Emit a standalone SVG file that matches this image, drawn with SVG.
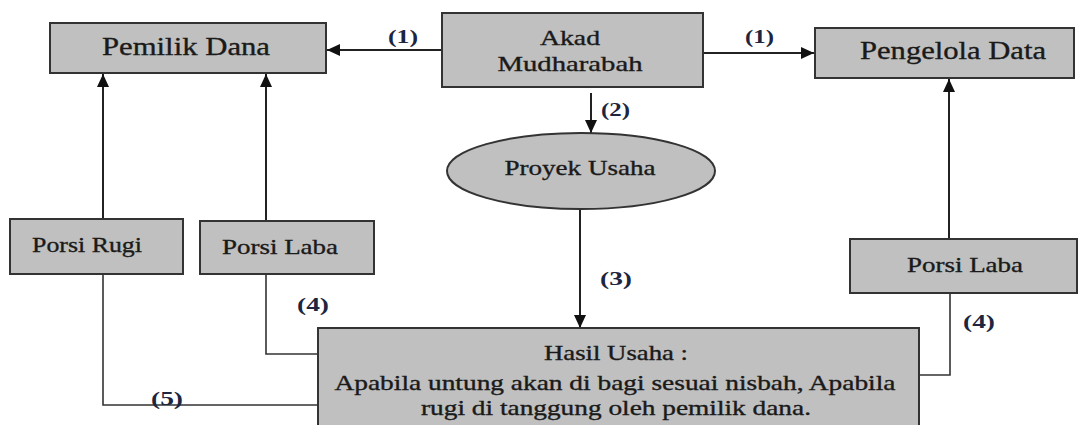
<svg xmlns="http://www.w3.org/2000/svg" width="1080" height="425" viewBox="0 0 1080 425">
<style>
.box{fill:#c0c0c0;stroke:#333;stroke-width:2}
.t{font-family:"Liberation Serif","Times New Roman",serif;fill:#1a1a1a;stroke:#1a1a1a;stroke-width:0.35;text-anchor:middle}
.lbl{font-family:"Liberation Serif","Times New Roman",serif;fill:#1e2540;font-weight:bold;font-size:19px}
.ln{fill:none;stroke:#222;stroke-width:2}
.ln2{fill:none;stroke:#333;stroke-width:1.6}
</style>
<defs>
<marker id="ah" markerUnits="userSpaceOnUse" markerWidth="14" markerHeight="12" refX="13" refY="6" orient="auto">
<path d="M0,0 L13,6 L0,12 Z" fill="#111"/>
</marker>
</defs>
<rect width="1080" height="425" fill="#fff"/>
<g id="connectors">
<line class="ln" x1="442" y1="50" x2="327" y2="50" marker-end="url(#ah)"/>
<line class="ln" x1="703" y1="53" x2="814" y2="53" marker-end="url(#ah)"/>
<line class="ln" x1="591" y1="93" x2="591" y2="133" marker-end="url(#ah)"/>
<line class="ln" x1="580" y1="209" x2="580" y2="328" marker-end="url(#ah)"/>
<line class="ln" x1="103" y1="219" x2="103" y2="74" marker-end="url(#ah)"/>
<line class="ln" x1="266" y1="221" x2="266" y2="74" marker-end="url(#ah)"/>
<line class="ln" x1="949" y1="239" x2="949" y2="79" marker-end="url(#ah)"/>
<polyline class="ln2" points="103,274 103,405 318,405"/>
<polyline class="ln2" points="266,274 266,354 318,354"/>
<polyline class="ln2" points="950,282 950,375 919,375"/>
<text class="lbl" x="388" y="43" textLength="30" lengthAdjust="spacingAndGlyphs">(1)</text>
<text class="lbl" x="745" y="43" textLength="29" lengthAdjust="spacingAndGlyphs">(1)</text>
<text class="lbl" x="601" y="116" textLength="29" lengthAdjust="spacingAndGlyphs">(2)</text>
<text class="lbl" x="600" y="285" textLength="32" lengthAdjust="spacingAndGlyphs">(3)</text>
<text class="lbl" x="297" y="311" textLength="32" lengthAdjust="spacingAndGlyphs">(4)</text>
<text class="lbl" x="963" y="328" textLength="32" lengthAdjust="spacingAndGlyphs">(4)</text>
<text class="lbl" x="151" y="405" textLength="32" lengthAdjust="spacingAndGlyphs">(5)</text>
</g>
<g id="pemilik-dana">
<rect class="box" x="50" y="23" width="276" height="50"/>
<text class="t" x="186" y="55" font-size="26" textLength="168" lengthAdjust="spacingAndGlyphs">Pemilik Dana</text>
</g>
<g id="akad-mudharabah">
<rect class="box" x="442" y="13" width="261" height="74"/>
<text class="t" x="570" y="45" font-size="22" textLength="60" lengthAdjust="spacingAndGlyphs">Akad</text>
<text class="t" x="570" y="71" font-size="22" textLength="145" lengthAdjust="spacingAndGlyphs">Mudharabah</text>
</g>
<g id="pengelola-data">
<rect class="box" x="815" y="28" width="259" height="50"/>
<text class="t" x="953" y="59" font-size="26" textLength="186" lengthAdjust="spacingAndGlyphs">Pengelola Data</text>
</g>
<g id="proyek-usaha">
<ellipse cx="581" cy="171" rx="134" ry="38" fill="#c0c0c0" stroke="#333" stroke-width="2"/>
<text class="t" x="580" y="175" font-size="22" textLength="151" lengthAdjust="spacingAndGlyphs">Proyek Usaha</text>
</g>
<g id="porsi-rugi">
<rect class="box" x="10" y="219" width="173" height="55"/>
<text class="t" x="87" y="252" font-size="22" textLength="110" lengthAdjust="spacingAndGlyphs">Porsi Rugi</text>
</g>
<g id="porsi-laba-kiri">
<rect class="box" x="200" y="221" width="174" height="53"/>
<text class="t" x="280" y="254" font-size="22" textLength="116" lengthAdjust="spacingAndGlyphs">Porsi Laba</text>
</g>
<g id="porsi-laba-kanan">
<rect class="box" x="850" y="239" width="227" height="54"/>
<text class="t" x="965" y="272" font-size="22" textLength="116" lengthAdjust="spacingAndGlyphs">Porsi Laba</text>
</g>
<g id="hasil-usaha">
<rect class="box" x="318" y="328" width="601" height="110"/>
<text class="t" x="616" y="360" font-size="21" textLength="144" lengthAdjust="spacingAndGlyphs">Hasil Usaha :</text>
<text class="t" x="615" y="390" font-size="21" textLength="561" lengthAdjust="spacingAndGlyphs">Apabila untung akan di bagi sesuai nisbah, Apabila</text>
<text class="t" x="616" y="415" font-size="21" textLength="390" lengthAdjust="spacingAndGlyphs">rugi di tanggung oleh pemilik  dana.</text>
</g>
</svg>
